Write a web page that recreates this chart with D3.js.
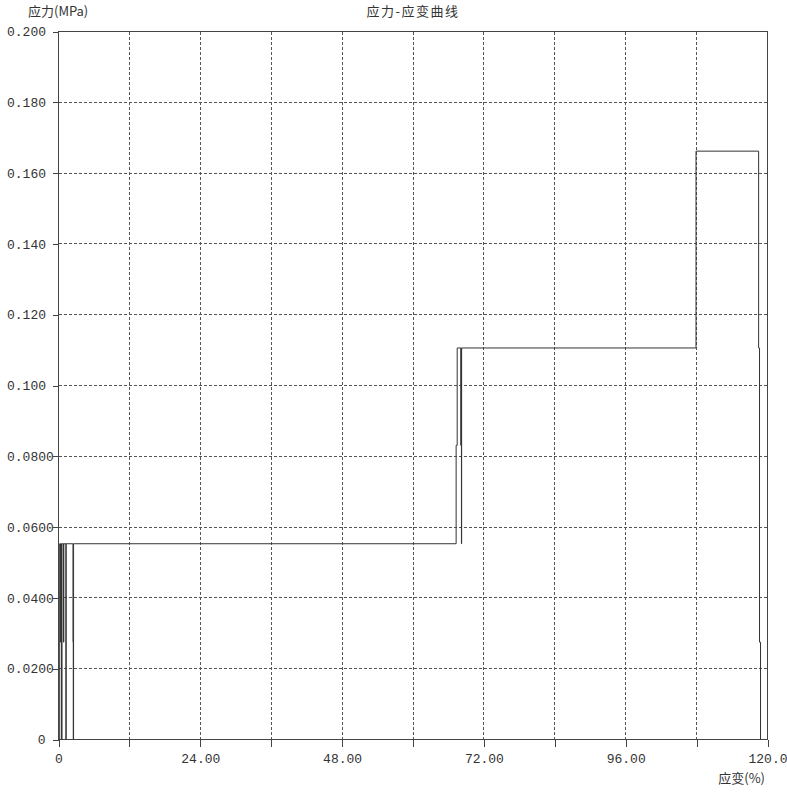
<!DOCTYPE html>
<html>
<head>
<meta charset="utf-8">
<script src="https://cdn.jsdelivr.net/npm/d3@7"></script>
<style>
  html, body { margin: 0; padding: 0; background: #fff; }
  svg { display: block; }
  .num { font-family: "Liberation Mono", "DejaVu Sans Mono", monospace; font-size: 13px; fill: #333; }
  .cjk { font-family: "Noto Sans CJK SC", sans-serif; font-size: 13px; fill: #333; }
</style>
</head>
<body>
<script>
// ---- data (step change points: strain %, stress MPa) ----
const strain = [0, 0.2, 0.35, 0.4, 0.5, 0.6, 0.85, 0.9, 1.25, 1.3, 2.45, 2.5, 2.55,
                67.3, 67.48, 68.1, 68.15, 68.2, 68.23, 107.9, 118.5, 118.65, 118.82];
const stress = [0, 0.0553, 0.0275, 0.0553, 0, 0.0553, 0.0275, 0.0553, 0, 0.0553, 0.0275, 0, 0.0553,
                0.0831, 0.1106, 0.0831, 0.1106, 0.0553, 0.1106, 0.1662, 0.1106, 0.0275, 0];

const xTicks = [0, 12, 24, 36, 48, 60, 72, 84, 96, 108, 120];
const xTickLabels = ["0", "", "24.00", "", "48.00", "", "72.00", "", "96.00", "", "120.0"];
const yTicks = [0, 0.02, 0.04, 0.06, 0.08, 0.10, 0.12, 0.14, 0.16, 0.18, 0.20];
const yTickLabels = ["0", "0.0200", "0.0400", "0.0600", "0.0800", "0.100", "0.120", "0.140", "0.160", "0.180", "0.200"];

const title = "应力-应变曲线";
const yTitle = "应力(MPa)";
const xTitle = "应变(%)";

const W = 787, H = 800;
const x = d3.scaleLinear().domain([0, 120]).range([58.5, 767.5]);
const y = d3.scaleLinear().domain([0, 0.2]).range([739.5, 31.5]);

const svg = d3.select("body").append("svg").attr("width", W).attr("height", H);

// grid
const grid = svg.append("g").attr("stroke", "#555").attr("stroke-width", 1)
  .attr("stroke-dasharray", "3,2").attr("shape-rendering", "crispEdges");
grid.selectAll("line.vx").data(xTicks.slice(1, -1)).join("line")
  .attr("x1", d => x(d)).attr("x2", d => x(d)).attr("y1", y(0.2)).attr("y2", y(0));
grid.selectAll("line.hy").data(yTicks.slice(1, -1)).join("line")
  .attr("x1", x(0)).attr("x2", x(120)).attr("y1", d => y(d)).attr("y2", d => y(d));

// frame
svg.append("rect").attr("x", x(0)).attr("y", y(0.2))
  .attr("width", x(120) - x(0)).attr("height", y(0) - y(0.2))
  .attr("fill", "none").attr("stroke", "#444").attr("shape-rendering", "crispEdges");

// axes
const xAxis = d3.axisBottom(x).tickValues(xTicks).tickSize(7).tickPadding(6)
  .tickFormat((d, i) => xTickLabels[i]);
const gx = svg.append("g").attr("transform", `translate(0,${y(0)})`).call(xAxis);
gx.select(".domain").remove();
gx.selectAll(".tick line").attr("stroke", "#444").attr("shape-rendering", "crispEdges");
gx.selectAll(".tick text").attr("class", "num").attr("font-family", null).attr("font-size", null)
  .attr("fill", null).attr("dy", "0.8em");

const yAxis = d3.axisLeft(y).tickValues(yTicks).tickSize(6).tickPadding(4)
  .tickFormat((d, i) => yTickLabels[i]);
const gy = svg.append("g").attr("transform", `translate(${x(0)},0)`).call(yAxis);
gy.select(".domain").remove();
gy.selectAll(".tick line").attr("stroke", "#444").attr("shape-rendering", "crispEdges");
gy.selectAll(".tick text").attr("class", "num").attr("font-family", null).attr("font-size", null)
  .attr("fill", null)
  .attr("text-anchor", (d, i) => yTickLabels[i].length > 1 ? "start" : "end")
  .attr("x", (d, i) => yTickLabels[i].length > 1 ? 7 - x(0) : -13);

// curve
const pts = strain.map((s, i) => [s, stress[i]]);
const line = d3.line().x(d => x(d[0])).y(d => y(d[1])).curve(d3.curveStepAfter);
svg.append("path").datum(pts).attr("d", line)
  .attr("fill", "none").attr("stroke", "#333").attr("stroke-width", 1);

// titles
svg.append("text").attr("class", "cjk").attr("x", (x(0) + x(120)) / 2).attr("y", 16)
  .attr("text-anchor", "middle").attr("letter-spacing", 1.5).text(title);
svg.append("text").attr("class", "cjk").attr("x", 28).attr("y", 16).text(yTitle);
svg.append("text").attr("class", "cjk").attr("x", 765).attr("y", 783)
  .attr("text-anchor", "end").text(xTitle);
</script>
</body>
</html>
